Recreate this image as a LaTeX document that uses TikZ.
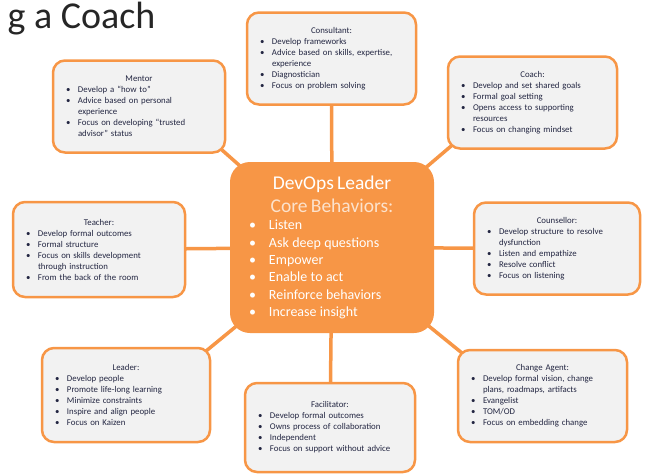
\documentclass[tikz,border=0pt]{standalone}
\usepackage{fontspec}
\setmainfont{Carlito}
\definecolor{devorange}{RGB}{247,150,70}
\definecolor{boxgray}{RGB}{242,242,242}
\definecolor{boxtext}{RGB}{35,38,66}
\definecolor{corepeach}{RGB}{252,226,204}
\usetikzlibrary{backgrounds}

\newcommand{\rolehead}[1]{{\centering #1\par}}
\newcommand{\roleitem}[1]{\par\noindent\hangindent=12pt\hangafter=1\makebox[12pt][l]{\textbullet}#1\par}
\newcommand{\coreitem}[1]{\par\noindent\hangindent=20pt\hangafter=1\makebox[20pt][l]{\textbullet}#1\par}

\begin{document}
\begin{tikzpicture}[x=1pt, y=-1pt,
    rolebox/.style={draw=devorange, line width=2.5pt, fill=boxgray, rounded corners=12pt,
        inner xsep=13pt, text width=143pt, minimum height=92pt, align=left,
        text=boxtext, font=\fontsize{8.8}{11}\selectfont},
    corebox/.style={fill=devorange, rounded corners=20pt, inner xsep=19pt, text width=166pt,
        minimum height=171pt, align=left, text=white},
    link/.style={devorange, line width=3.5pt, shorten >=-12pt}]
    \useasboundingbox (0,0) rectangle (647,474);

    \node[anchor=base east, font=\fontsize{38}{40}\selectfont, text=black!85] (title) at (159,28) {g a Coach};

    \node[corebox] (c) at (332,247.5) {%
        {\centering\fontsize{19.5}{23}\selectfont DevOps Leader\par
        \color{corepeach}Core Behaviors:\par}
        \fontsize{14}{17.4}\selectfont
        \coreitem{Listen}
        \coreitem{Ask deep questions}
        \coreitem{Empower}
        \coreitem{Enable to act}
        \coreitem{Reinforce behaviors}
        \coreitem{Increase insight}};

    \node[rolebox] (consultant) at (331.5,58.5) {%
        \rolehead{Consultant:}
        \roleitem{Develop frameworks}
        \roleitem{Advice based on skills, expertise,\break experience}
        \roleitem{Diagnostician}
        \roleitem{Focus on problem solving}};
    \node[rolebox] (coach) at (532.5,102.5) {%
        \rolehead{Coach:}
        \roleitem{Develop and set shared goals}
        \roleitem{Formal goal setting}
        \roleitem{Opens access to supporting\break resources}
        \roleitem{Focus on changing mindset}};
    \node[rolebox, text width=146pt] (mentor) at (139,106.5) {%
        \rolehead{Mentor}
        \roleitem{Develop a “how to”}
        \roleitem{Advice based on personal\break experience}
        \roleitem{Focus on developing “trusted\break advisor” status}};
    \node[rolebox, text width=146pt, minimum height=95pt] (teacher) at (99,249.5) {%
        \rolehead{Teacher:}
        \roleitem{Develop formal outcomes}
        \roleitem{Formal structure}
        \roleitem{Focus on skills development\break through instruction}
        \roleitem{From the back of the room}};
    \node[rolebox, text width=140pt] (counsellor) at (557,248.5) {%
        \rolehead{Counsellor:}
        \roleitem{Develop structure to resolve\break dysfunction}
        \roleitem{Listen and empathize}
        \roleitem{Resolve conflict}
        \roleitem{Focus on listening}};
    \node[rolebox, text width=142pt, minimum height=94pt] (leader) at (126,395) {%
        \rolehead{Leader:}
        \roleitem{Develop people}
        \roleitem{Promote life-long learning}
        \roleitem{Minimize constraints}
        \roleitem{Inspire and align people}
        \roleitem{Focus on Kaizen}};
    \node[rolebox, text width=144pt, minimum height=89pt] (facilitator) at (330,427.5) {%
        \rolehead{Facilitator:}
        \roleitem{Develop formal outcomes}
        \roleitem{Owns process of collaboration}
        \roleitem{Independent}
        \roleitem{Focus on support without advice}};
    \node[rolebox] (agent) at (542.5,396) {%
        \rolehead{Change Agent:}
        \roleitem{Develop formal vision, change\break plans, roadmaps, artifacts}
        \roleitem{Evangelist}
        \roleitem{TOM/OD}
        \roleitem{Focus on embedding change}};

    \begin{pgfonlayer}{background}
        \foreach \role/\anc in {consultant/center, coach/south west, counsellor/center,
            agent/north west, facilitator/center, leader/north east, teacher/center, mentor/south east}
            \draw[link] (c.center) -- (\role.\anc);
    \end{pgfonlayer}
\end{tikzpicture}
\end{document}
